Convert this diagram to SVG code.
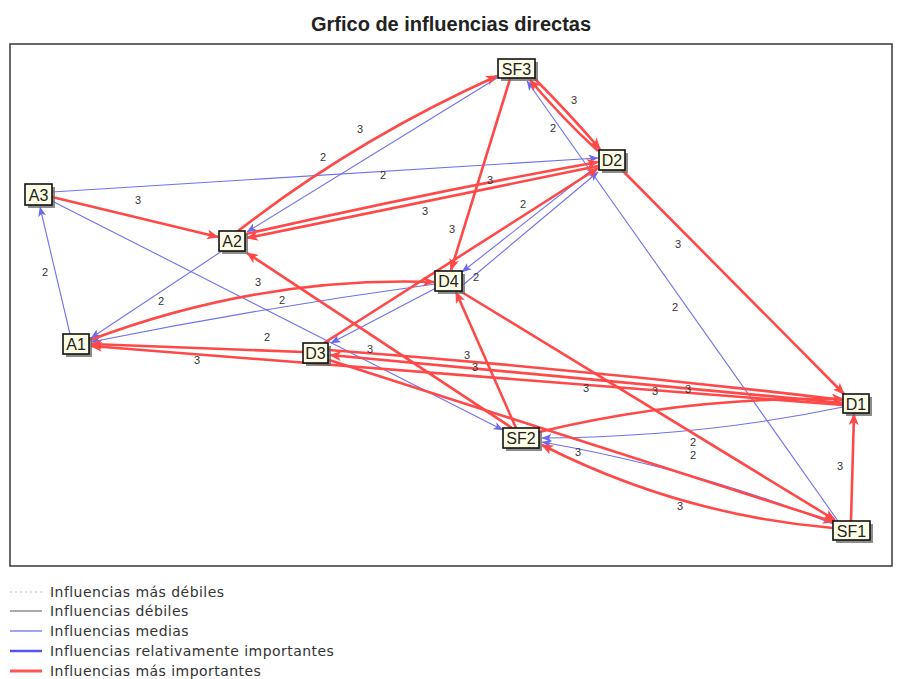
<svg xmlns="http://www.w3.org/2000/svg" width="897" height="679" viewBox="0 0 897 679">
<style>
.title{font-family:"Liberation Sans",Arial,sans-serif;font-size:20px;font-weight:bold;fill:#222}
.nb{fill:#fdfde6;stroke:#111;stroke-width:1.6}
.sh{fill:#666;opacity:.75}
.nt{font-family:"Liberation Sans",Arial,sans-serif;font-size:16px;fill:#222;text-anchor:middle}
.r{fill:none;stroke:#ff4848;stroke-width:2.6;marker-end:url(#mr)}
.b{fill:none;stroke:#7070ee;stroke-width:1.1;marker-end:url(#mb)}
.el{font-family:"Liberation Sans",Arial,sans-serif;font-size:11px;fill:#333;text-anchor:middle}
.lg{font-family:"DejaVu Sans",Verdana,sans-serif;font-size:14px;letter-spacing:0.45px;fill:#333}
</style>
<defs>
<marker id="mr" viewBox="0 0 12 10" refX="11" refY="5" markerWidth="12" markerHeight="10" markerUnits="userSpaceOnUse" orient="auto"><path d="M0,0 L12,5 L0,10 L3,5 z" fill="#ff4848"/></marker>
<marker id="mb" viewBox="0 0 10 8" refX="9.5" refY="4" markerWidth="10" markerHeight="8" markerUnits="userSpaceOnUse" orient="auto"><path d="M0,0 L10,4 L0,8 L2.5,4 z" fill="#6a6aee"/></marker>
</defs>
<rect width="897" height="679" fill="#fff"/>
<text class="title" x="451" y="31" text-anchor="middle">Grfico de influencias directas</text>
<rect x="10" y="44" width="882" height="522" fill="#fff" stroke="#444" stroke-width="1.6"/>

<g id="connectors">
<path class="b" d="M70,334 L40,207"/>
<path class="b" d="M222,251 L91,338"/>
<path class="b" d="M497,78 L247,232"/>
<path class="b" d="M52,192 L598,158"/>
<path class="b" d="M52,201 L503,430"/>
<path class="b" d="M838,521 L527,81"/>
<path class="b" d="M593,169 L462,272"/>
<path class="b" d="M463,285 L598,172"/>
<path class="b" d="M436,288 L331,343"/>
<path class="b" d="M435,284 Q260,308 91,342"/>
<path class="b" d="M843,407 Q700,437 542,438"/>
<path class="b" d="M833,524 Q700,470 542,442"/>

<path class="r" d="M52,197 L218,237"/>
<path class="r" d="M238,231 Q355,140 497,76"/>
<path class="r" d="M598,166 L247,238"/>
<path class="r" d="M246,234 Q430,192 598,162"/>
<path class="r" d="M534,78 Q566,110 600,149"/>
<path class="r" d="M598,151 Q562,118 530,80"/>
<path class="r" d="M510,79 L451,270"/>
<path class="r" d="M622,170 L844,394"/>
<path class="r" d="M324,343 L598,168"/>
<path class="r" d="M90,340 Q260,276 434,282"/>
<path class="r" d="M512,428 L247,253"/>
<path class="r" d="M516,428 L456,292"/>
<path class="r" d="M329,350 Q590,370 843,400"/>
<path class="r" d="M843,403 Q590,380 330,355"/>
<path class="r" d="M843,405 L91,346"/>
<path class="r" d="M303,352 L91,344"/>
<path class="r" d="M539,432 Q690,396 843,399"/>
<path class="r" d="M851,521 L854,414"/>
<path class="r" d="M460,291 L835,520"/>
<path class="r" d="M329,360 L834,522"/>
<path class="r" d="M833,528 Q680,515 542,445"/>
</g>

<g id="edge-labels">
<text class="el" x="574" y="104">3</text>
<text class="el" x="360" y="133">3</text>
<text class="el" x="553" y="132">2</text>
<text class="el" x="323" y="161">2</text>
<text class="el" x="383" y="179">2</text>
<text class="el" x="490" y="184">3</text>
<text class="el" x="138" y="204">3</text>
<text class="el" x="523" y="208">2</text>
<text class="el" x="425" y="215">3</text>
<text class="el" x="452" y="233">3</text>
<text class="el" x="678" y="248">3</text>
<text class="el" x="45" y="276">2</text>
<text class="el" x="476" y="281">2</text>
<text class="el" x="258" y="286">3</text>
<text class="el" x="282" y="304">2</text>
<text class="el" x="161" y="305">2</text>
<text class="el" x="675" y="311">2</text>
<text class="el" x="267" y="341">2</text>
<text class="el" x="370" y="353">3</text>
<text class="el" x="197" y="364">3</text>
<text class="el" x="467" y="359">3</text>
<text class="el" x="475" y="371">3</text>
<text class="el" x="586" y="392">3</text>
<text class="el" x="655" y="395">3</text>
<text class="el" x="688" y="393">3</text>
<text class="el" x="693" y="446">2</text>
<text class="el" x="693" y="459">2</text>
<text class="el" x="578" y="456">3</text>
<text class="el" x="680" y="510">3</text>
<text class="el" x="840" y="470">3</text>
</g>

<g id="SF3"><rect class="sh" x="501" y="62" width="37" height="19"/><rect class="nb" x="498" y="59" width="37" height="19"/><text class="nt" x="516.5" y="74.5">SF3</text></g>
<g id="D2"><rect class="sh" x="602" y="153" width="26" height="20"/><rect class="nb" x="599" y="150" width="26" height="20"/><text class="nt" x="612" y="166">D2</text></g>
<g id="A3"><rect class="sh" x="28" y="187" width="27" height="21"/><rect class="nb" x="25" y="184" width="27" height="21"/><text class="nt" x="38.5" y="200.5">A3</text></g>
<g id="A2"><rect class="sh" x="222" y="234" width="26" height="20"/><rect class="nb" x="219" y="231" width="26" height="20"/><text class="nt" x="232" y="247">A2</text></g>
<g id="A1"><rect class="sh" x="66" y="337" width="26" height="20"/><rect class="nb" x="63" y="334" width="26" height="20"/><text class="nt" x="76" y="350">A1</text></g>
<g id="D4"><rect class="sh" x="438" y="274" width="27" height="20"/><rect class="nb" x="435" y="271" width="27" height="20"/><text class="nt" x="448.5" y="287">D4</text></g>
<g id="D3"><rect class="sh" x="306" y="346" width="25" height="20"/><rect class="nb" x="303" y="343" width="25" height="20"/><text class="nt" x="315.5" y="359">D3</text></g>
<g id="SF2"><rect class="sh" x="506" y="431" width="36" height="20"/><rect class="nb" x="503" y="428" width="36" height="20"/><text class="nt" x="521" y="444">SF2</text></g>
<g id="D1"><rect class="sh" x="846" y="397" width="26" height="19"/><rect class="nb" x="843" y="394" width="26" height="19"/><text class="nt" x="856" y="409.5">D1</text></g>
<g id="SF1"><rect class="sh" x="836" y="524" width="37" height="19"/><rect class="nb" x="833" y="521" width="37" height="19"/><text class="nt" x="851.5" y="536.5">SF1</text></g>

<g id="legend">
<line x1="10" y1="592" x2="42" y2="592" stroke="#bbb" stroke-width="1" stroke-dasharray="2,3"/>
<text class="lg" x="50" y="597">Influencias más débiles</text>
<line x1="10" y1="611" x2="42" y2="611" stroke="#555" stroke-width="1"/>
<text class="lg" x="50" y="616">Influencias débiles</text>
<line x1="10" y1="631" x2="42" y2="631" stroke="#6666ee" stroke-width="1.2"/>
<text class="lg" x="50" y="636">Influencias medias</text>
<line x1="10" y1="651" x2="42" y2="651" stroke="#5555ee" stroke-width="2.5"/>
<text class="lg" x="50" y="656">Influencias relativamente importantes</text>
<line x1="10" y1="671" x2="42" y2="671" stroke="#ff5555" stroke-width="3"/>
<text class="lg" x="50" y="676">Influencias más importantes</text>
</g>
</svg>
